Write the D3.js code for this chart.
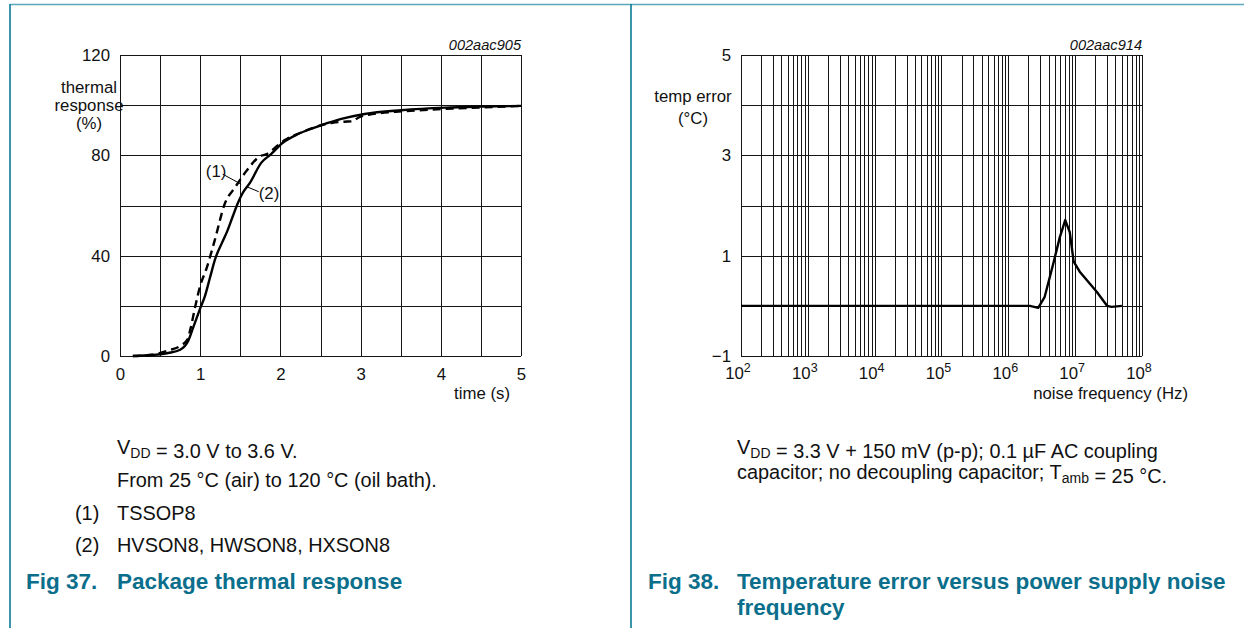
<!DOCTYPE html>
<html>
<head>
<meta charset="utf-8">
<script src="https://cdn.jsdelivr.net/npm/d3@7"></script>
<style>
  body { margin: 0; background: #fff; }
  svg { display: block; font-family: "Liberation Sans", Arial, sans-serif; }
  .grid line { stroke: #151515; stroke-width: 1; shape-rendering: crispEdges; }
  .tick-label { font-size: 16.8px; fill: #111; }
  .axis-title { font-size: 16.8px; fill: #111; }
  .note { font-size: 19.9px; fill: #111; }
  .fig { font-size: 22.5px; font-weight: bold; fill: #0b6f8c; }
</style>
</head>
<body>
<svg id="graphic" width="1244" height="628"></svg>
<script>
// Fig 37 - package thermal response
const timeTSSOP = [0.16, 0.4, 0.6, 0.75, 0.84, 0.88, 0.94, 1.0, 1.08, 1.18, 1.31, 1.43, 1.57, 1.74, 1.83, 1.97, 2.05, 2.25, 2.51, 2.65, 2.8, 2.9, 2.97, 3.1, 3.55, 4.06, 4.5, 5.0];
const respTSSOP = [0, 0.5, 2.2, 4, 6.5, 11, 20, 28, 35, 46, 61, 67, 73.5, 79.5, 80.5, 84, 86, 89, 92, 93, 93.4, 93.6, 95, 96.2, 97.6, 98.5, 99.1, 99.7];
const timeHVSON = [0.16, 0.4, 0.6, 0.75, 0.85, 0.92, 1.0, 1.06, 1.12, 1.19, 1.27, 1.34, 1.41, 1.47, 1.53, 1.62, 1.76, 1.88, 2.03, 2.22, 2.51, 2.76, 3.05, 3.51, 4.06, 4.5, 5.0];
const respHVSON = [0, 0.4, 1.2, 2.5, 6, 12, 19, 24, 31, 39, 45, 50, 56, 61, 65, 69, 77, 80.4, 85, 88.5, 92, 94.5, 96.5, 98, 99, 99.4, 99.7];
const timeTicks = [0, 1, 2, 3, 4, 5];
const respTicks = [0, 40, 80, 120];

// Fig 38 - temperature error vs noise frequency
const noiseFreq = [1e2, 2.1e6, 2.8e6, 3.5e6, 4.7e6, 5.9e6, 7.1e6, 8.3e6, 9.5e6, 1.17e7, 2.1e7, 3.0e7, 3.5e7, 5.0e7];
const tempError = [0, 0, -0.04, 0.18, 0.84, 1.37, 1.71, 1.47, 0.88, 0.68, 0.28, 0, -0.02, 0];
const freqTicks = [1e2, 1e3, 1e4, 1e5, 1e6, 1e7, 1e8];
const errTicks = [5, 3, 1, -1];

const svg = d3.select('#graphic');
const font = '"Liberation Sans", Arial, sans-serif';

// page frame
svg.append('line').attr('x1', 10).attr('x2', 1244).attr('y1', 4.5).attr('y2', 4.5)
    .attr('stroke', '#5ba8bd').attr('stroke-width', 1.6);
svg.append('line').attr('x1', 10).attr('x2', 10).attr('y1', 4).attr('y2', 628)
    .attr('stroke', '#0a7c98').attr('stroke-width', 1.6);
svg.append('line').attr('x1', 631).attr('x2', 631).attr('y1', 4).attr('y2', 628)
    .attr('stroke', '#0a7c98').attr('stroke-width', 1.6);

function drawFrame(x, y, xGrid, yGrid) {
    const g = svg.append('g').attr('class', 'grid');
    g.selectAll('line.v').data(xGrid).join('line').attr('class', 'v')
        .attr('x1', (d) => Math.round(x(d)) + 0.5).attr('x2', (d) => Math.round(x(d)) + 0.5)
        .attr('y1', y.range()[1]).attr('y2', y.range()[0]);
    g.selectAll('line.h').data(yGrid).join('line').attr('class', 'h')
        .attr('y1', (d) => Math.round(y(d)) + 0.5).attr('y2', (d) => Math.round(y(d)) + 0.5)
        .attr('x1', x.range()[0]).attr('x2', x.range()[1]);
    return g;
}

// ---------- left chart ----------
const x1 = d3.scaleLinear().domain([0, 5]).range([120, 521]);
const y1 = d3.scaleLinear().domain([0, 120]).range([356, 55]);
drawFrame(x1, y1, x1.ticks(10), y1.ticks(6));

svg.append('g').attr('transform', 'translate(0,356)')
    .call(d3.axisBottom(x1).tickValues(timeTicks).tickSize(0).tickPadding(12).tickFormat(d3.format('d')))
    .call((g) => g.select('.domain').remove())
    .selectAll('text').attr('class', 'tick-label').attr('font-family', font).attr('font-size', null);
svg.append('g').attr('transform', 'translate(120,0)')
    .call(d3.axisLeft(y1).tickValues(respTicks).tickSize(0).tickPadding(10))
    .call((g) => g.select('.domain').remove())
    .selectAll('text').attr('class', 'tick-label').attr('font-family', font).attr('font-size', null);

const line1 = d3.line().x((d) => x1(d[0])).y((d) => y1(d[1])).curve(d3.curveMonotoneX);
svg.append('path').datum(d3.zip(timeTSSOP, respTSSOP)).attr('d', line1)
    .attr('fill', 'none').attr('stroke', '#000').attr('stroke-width', 2.4).attr('stroke-dasharray', '8,5');
svg.append('path').datum(d3.zip(timeHVSON, respHVSON)).attr('d', line1)
    .attr('fill', 'none').attr('stroke', '#000').attr('stroke-width', 2.4);

// curve labels with leader lines
svg.append('line').attr('x1', x1(1.28)).attr('y1', y1(72.5)).attr('x2', x1(1.51)).attr('y2', y1(68.5))
    .attr('stroke', '#000').attr('stroke-width', 1);
svg.append('line').attr('x1', x1(1.58)).attr('y1', y1(67.5)).attr('x2', x1(1.73)).attr('y2', y1(65.5))
    .attr('stroke', '#000').attr('stroke-width', 1);
svg.append('text').attr('class', 'axis-title').attr('font-size', '14.5px')
    .attr('x', x1(1.07)).attr('y', y1(71.5)).text('(1)');
svg.append('text').attr('class', 'axis-title').attr('font-size', '14.5px')
    .attr('x', x1(1.73)).attr('y', y1(62.5)).text('(2)');

svg.append('text').attr('x', 521).attr('y', 50).attr('text-anchor', 'end')
    .attr('font-style', 'italic').attr('font-size', '14.6px').attr('fill', '#111').text('002aac905');
['thermal', 'response', '(%)'].forEach((t, i) => {
    svg.append('text').attr('class', 'axis-title').attr('x', 89).attr('y', 93 + i * 18)
        .attr('text-anchor', 'middle').text(t);
});
svg.append('text').attr('class', 'axis-title').attr('x', 510).attr('y', 399)
    .attr('text-anchor', 'end').text('time (s)');

// ---------- right chart ----------
const x2 = d3.scaleLog().domain([1e2, 1e8]).range([741, 1142]);
const y2 = d3.scaleLinear().domain([-1, 5]).range([356, 55]);
const grid2 = drawFrame(x2, y2, x2.ticks(), y2.ticks(6));
// decade lines a little heavier
grid2.selectAll('line.v').filter((d) => Math.abs(Math.log10(d) % 1) < 1e-9).attr('stroke-width', 1.4);

svg.append('g').attr('transform', 'translate(741,0)')
    .call(d3.axisLeft(y2).tickValues(errTicks).tickSize(0).tickPadding(10).tickFormat((d) => d3.format('d')(d).replace('-', '\u2212')))
    .call((g) => g.select('.domain').remove())
    .selectAll('text').attr('class', 'tick-label').attr('font-family', font).attr('font-size', null);

const xl = svg.append('g').selectAll('text').data(freqTicks).join('text')
    .attr('class', 'tick-label').attr('x', (d) => x2(d) - 3).attr('y', 379).attr('text-anchor', 'middle');
xl.append('tspan').text('10');
xl.append('tspan').attr('dy', -7).attr('font-size', '12.5px').text((d) => Math.round(Math.log10(d)));

const line2 = d3.line().x((d) => x2(d[0])).y((d) => y2(d[1]));
svg.append('path').datum(d3.zip(noiseFreq, tempError)).attr('d', line2)
    .attr('fill', 'none').attr('stroke', '#000').attr('stroke-width', 2.4).attr('stroke-linejoin', 'round');

svg.append('text').attr('x', 1142).attr('y', 50).attr('text-anchor', 'end')
    .attr('font-style', 'italic').attr('font-size', '14.6px').attr('fill', '#111').text('002aac914');
svg.append('text').attr('class', 'axis-title').attr('x', 693).attr('y', 102).attr('text-anchor', 'middle').text('temp error');
svg.append('text').attr('class', 'axis-title').attr('x', 693).attr('y', 124).attr('text-anchor', 'middle').text('(\u00b0C)');
svg.append('text').attr('class', 'axis-title').attr('x', 1188).attr('y', 399)
    .attr('text-anchor', 'end').text('noise frequency (Hz)');

// ---------- captions ----------
function note(x, y, parts, cls) {
    const t = svg.append('text').attr('class', cls || 'note').attr('x', x).attr('y', y);
    parts.forEach((p) => {
        if (typeof p === 'string') {
            t.append('tspan').text(p);
        } else {
            t.append('tspan').attr('dy', 4).attr('font-size', '14px').text(p.sub);
            t.append('tspan').attr('dy', -4).text('');
        }
    });
    return t;
}

note(117, 454, ['V', { sub: 'DD' }, ' = 3.0 V to 3.6 V.']);
note(117, 487, ['From 25 \u00b0C (air) to 120 \u00b0C (oil bath).']);
note(75, 520, ['(1)']);
note(117, 520, ['TSSOP8']);
note(75, 552, ['(2)']);
note(117, 552, ['HVSON8, HWSON8, HXSON8']);
note(26, 589, ['Fig 37.'], 'fig');
note(117, 589, ['Package thermal response'], 'fig');

note(737, 454, ['V', { sub: 'DD' }, ' = 3.3 V + 150 mV (p-p); 0.1 \u00b5F AC coupling']);
note(737, 479, ['capacitor; no decoupling capacitor; T', { sub: 'amb' }, ' = 25 \u00b0C.']);
note(648, 589, ['Fig 38.'], 'fig');
note(737, 589, ['Temperature error versus power supply noise'], 'fig');
note(737, 615, ['frequency'], 'fig');
</script>
</body>
</html>
